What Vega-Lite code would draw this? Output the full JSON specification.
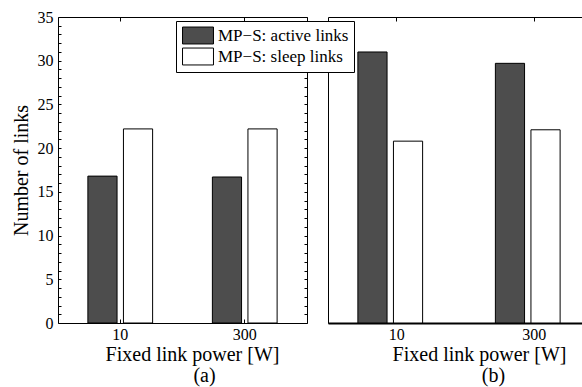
{
  "$schema": "https://vega.github.io/schema/vega-lite/v6.json",
  "padding": {"left": 10, "top": -131, "right": 0, "bottom": 0},
  "background": "white",
  "spacing": 19,
  "config": {
    "font": "Liberation Serif",
    "view": {"stroke": "black", "strokeWidth": 1},
    "axis": {"labelFont": "Liberation Serif", "titleFont": "Liberation Serif", "labelFontSize": 16, "titleFontSize": 20, "titleFontWeight": "normal", "labelColor": "black", "titleColor": "black", "tickColor": "black", "domain": false, "grid": false, "tickWidth": 1},
    "title": {"font": "Liberation Serif", "fontSize": 20, "fontWeight": "normal", "color": "black"}
  },
  "datasets": {
    "a": [
      {"power": "10", "type": "MP−S: active links", "value": 16.8},
      {"power": "10", "type": "MP−S: sleep links", "value": 22.2},
      {"power": "300", "type": "MP−S: active links", "value": 16.7},
      {"power": "300", "type": "MP−S: sleep links", "value": 22.2}
    ],
    "b": [
      {"power": "10", "type": "MP−S: active links", "value": 31.0},
      {"power": "10", "type": "MP−S: sleep links", "value": 20.8},
      {"power": "300", "type": "MP−S: active links", "value": 29.7},
      {"power": "300", "type": "MP−S: sleep links", "value": 22.1}
    ]
  },
  "hconcat": [
    {
      "width": 249,
      "height": 306,
      "data": {"name": "a"},
      "title": {"text": "(a)", "orient": "bottom", "anchor": "middle", "frame": "group", "dx": 22, "offset": 2},
      "layer": [
        {
          "mark": {"type": "bar", "stroke": "black", "strokeWidth": 1},
          "encoding": {
            "x": {"field": "power", "type": "nominal", "sort": ["10", "300"], "scale": {"paddingInner": 0, "paddingOuter": 0},
              "axis": {"orient": "bottom", "title": "Fixed link power [W]", "labelAngle": 0, "tickSize": -4, "labelPadding": 7, "titlePadding": 2, "titleX": 134}},
            "xOffset": {"field": "type", "type": "nominal", "scale": {"paddingInner": 0.18, "paddingOuter": 0.84}},
            "y": {"field": "value", "type": "quantitative", "scale": {"domain": [0, 35], "nice": false},
              "axis": {"orient": "left", "title": "Number of links", "titlePadding": 6, "labelPadding": 8,
                "values": [0,1,2,3,4,5,6,7,8,9,10,11,12,13,14,15,16,17,18,19,20,21,22,23,24,25,26,27,28,29,30,31,32,33,34,35],
                "labelExpr": "datum.value % 5 === 0 ? datum.label : ''",
                "tickSize": -3}},
            "fill": {"field": "type", "type": "nominal",
              "scale": {"domain": ["MP−S: active links", "MP−S: sleep links"], "range": ["#4d4d4d", "#ffffff"]},
              "legend": {"title": null, "orient": "none", "legendX": 118, "legendY": 4, "direction": "vertical",
                "strokeColor": "black", "fillColor": "white", "padding": 5, "labelFontSize": 17, "labelFont": "Liberation Serif", "labelColor": "black",
                "symbolType": "M-1.72,-0.94H1.72V0.94H-1.72Z", "symbolSize": 324, "symbolOffset": 7.5, "symbolStrokeColor": "black", "symbolStrokeWidth": 1, "symbolOpacity": 1,
                "rowPadding": 0, "labelOffset": 10.5, "labelLimit": 300}}
          }
        },
        {
          "mark": {"type": "bar", "opacity": 0},
          "encoding": {
            "x": {"field": "power", "type": "nominal", "sort": ["10", "300"], "axis": {"orient": "top", "labels": false, "title": null, "tickSize": -4}},
            "y": {"field": "value", "type": "quantitative",
              "axis": {"orient": "right", "labels": false, "title": null,
                "values": [0,1,2,3,4,5,6,7,8,9,10,11,12,13,14,15,16,17,18,19,20,21,22,23,24,25,26,27,28,29,30,31,32,33,34,35],
                "tickSize": -3}}
          }
        }
      ],
      "resolve": {"axis": {"x": "independent", "y": "independent"}}
    },
    {
      "width": 275,
      "height": 306,
      "data": {"name": "b"},
      "title": {"text": "(b)", "orient": "bottom", "anchor": "middle", "frame": "group", "dx": 28, "offset": 2},
      "layer": [
        {
          "mark": {"type": "bar", "stroke": "black", "strokeWidth": 1},
          "encoding": {
            "x": {"field": "power", "type": "nominal", "sort": ["10", "300"], "scale": {"paddingInner": 0, "paddingOuter": 0},
              "axis": {"orient": "bottom", "title": "Fixed link power [W]", "labelAngle": 0, "tickSize": -4, "labelPadding": 7, "titlePadding": 2, "titleX": 151, "domain": true, "domainWidth": 2, "domainColor": "black"}},
            "xOffset": {"field": "type", "type": "nominal", "scale": {"paddingInner": 0.18, "paddingOuter": 0.84}},
            "y": {"field": "value", "type": "quantitative", "scale": {"domain": [0, 35], "nice": false},
              "axis": {"orient": "left", "labels": false, "ticks": false, "title": null, "domain": true, "domainWidth": 1.5, "domainColor": "black"}},
            "fill": {"field": "type", "type": "nominal"}
          }
        },
        {
          "mark": {"type": "bar", "opacity": 0},
          "encoding": {
            "x": {"field": "power", "type": "nominal", "sort": ["10", "300"], "axis": {"orient": "top", "labels": false, "title": null, "tickSize": -4}},
            "y": {"field": "value", "type": "quantitative", "axis": null}
          }
        }
      ],
      "resolve": {"axis": {"x": "independent"}}
    }
  ],
  "resolve": {"scale": {"fill": "shared"}, "legend": {"fill": "shared"}}
}
